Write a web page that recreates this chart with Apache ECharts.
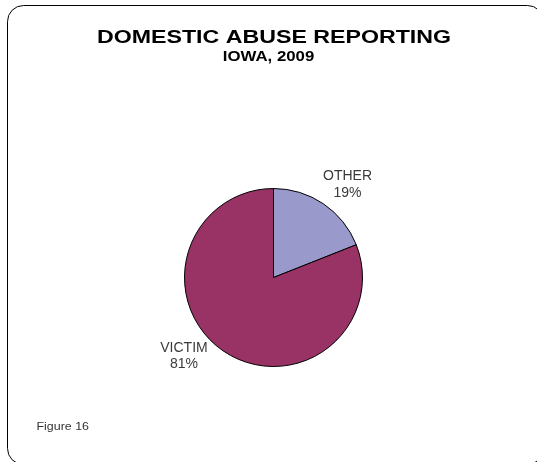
<!DOCTYPE html>
<html>
<head>
<meta charset="utf-8">
<script src="https://cdn.jsdelivr.net/npm/echarts@6/dist/echarts.min.js"></script>
<style>
  html, body { margin: 0; padding: 0; background: #fff; }
  #chart { width: 537px; height: 462px; }
</style>
</head>
<body>
<div id="chart"></div>
<script>
// Reporting source shares, Iowa 2009
const categories = ['OTHER', 'VICTIM'];
const shares = [19, 81];
const sliceColors = ['#9999CC', '#993366'];

const titleText = 'DOMESTIC ABUSE REPORTING';
const subtitleText = 'IOWA, 2009';
const figureText = 'Figure 16';

// label nudges relative to the default outside anchor
const labelShift = [
  { dx: -9, dy: -19 },
  { dx: -6.5, dy: 5 }
];

const chart = echarts.init(document.getElementById('chart'), null, { renderer: 'canvas' });

const FONT = '"Liberation Sans", Arial, sans-serif';

chart.setOption({
  animation: false,
  backgroundColor: '#ffffff',
  graphic: [
    {
      // frame runs past the right and bottom edges of the page
      type: 'rect',
      shape: { x: 7.5, y: 5.5, width: 536, height: 459, r: 16 },
      style: { fill: 'none', stroke: '#000', lineWidth: 1 },
      silent: true
    },
    {
      type: 'text',
      x: 274, y: 37.5,
      scaleX: 1.22,
      style: {
        text: titleText, fill: '#000',
        font: 'bold 19px ' + FONT,
        align: 'center', verticalAlign: 'middle'
      },
      silent: true
    },
    {
      type: 'text',
      x: 268.5, y: 56.5,
      scaleX: 1.12,
      style: {
        text: subtitleText, fill: '#000',
        font: 'bold 15px ' + FONT,
        align: 'center', verticalAlign: 'middle'
      },
      silent: true
    },
    {
      type: 'text',
      x: 36.5, y: 427,
      scaleX: 1.13,
      style: {
        text: figureText, fill: '#333',
        font: '11px ' + FONT,
        align: 'left', verticalAlign: 'middle'
      },
      silent: true
    }
  ],
  series: [
    {
      type: 'pie',
      center: [273.5, 277.5],
      radius: 89,
      startAngle: 90,
      clockwise: true,
      silent: true,
      itemStyle: { borderColor: '#000', borderWidth: 1 },
      label: {
        show: true,
        position: 'outside',
        formatter: '{t|{b}}\n{t|{d}%}',
        rich: {
          t: {
            width: 56, align: 'center', lineHeight: 16.5,
            fontFamily: FONT, fontSize: 14, color: '#3a3a3a'
          }
        }
      },
      labelLine: { show: false, length: 0, length2: 0 },
      labelLayout: function (p) {
        return labelShift[p.dataIndex];
      },
      data: categories.map(function (name, i) {
        return { name: name, value: shares[i], itemStyle: { color: sliceColors[i] } };
      })
    }
  ]
});
</script>
</body>
</html>
